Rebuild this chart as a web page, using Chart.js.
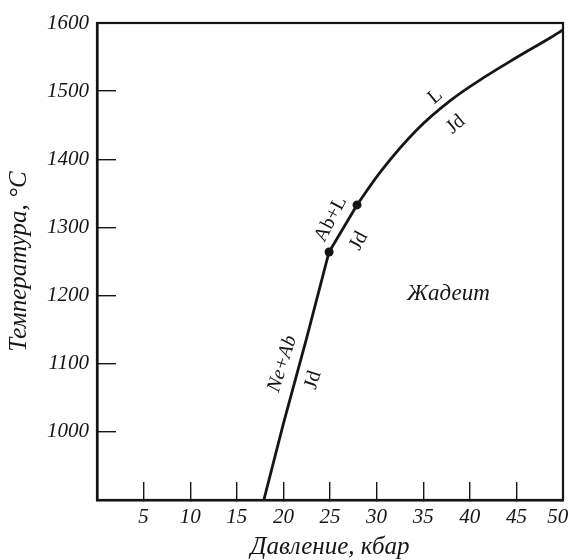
<!DOCTYPE html>
<html>
<head>
<meta charset="utf-8">
<script src="https://cdn.jsdelivr.net/npm/chart.js@4/dist/chart.umd.min.js"></script>
<style>
  html, body { margin: 0; padding: 0; background: #fff; }
  #wrap { width: 572px; height: 560px; }
</style>
</head>
<body>
<div id="wrap"><canvas id="c"></canvas></div>
<script>
// Jadeite stability: melting/breakdown curve, pressure (kbar) vs temperature (°C)

// Ne+Ab = Jd branch (lower, near-straight)
const lowerP = [17.9, 20, 22.5, 24.9]
const lowerT = [900, 1012, 1138, 1264]
// Ab+L = Jd branch (short segment between the two invariant points)
const midP = [24.9, 27.9]
const midT = [1264, 1333]
// L = Jd branch (upper, curving)
const upperP = [27.9, 30.6, 34.3, 37.9, 41.4, 45.1, 48.6, 50]
const upperT = [1333, 1385, 1443, 1486, 1519, 1550, 1578, 1590]
// invariant points (dots)
const dotP = [24.9, 27.9]
const dotT = [1264, 1333]

const xTicks = [5, 10, 15, 20, 25, 30, 35, 40, 45, 50]
const yTicks = [1000, 1100, 1200, 1300, 1400, 1500, 1600]

// curve labels, in data coords; angle in degrees
const notes = [
  { text: "Ne+Ab", x: 19.9, y: 1100, angle: -72, italic: true, size: 20 },
  { text: "Jd",    x: 23.2, y: 1076, angle: -72, size: 20 },
  { text: "Ab+L",  x: 25.1, y: 1312, angle: -62, size: 20 },
  { text: "Jd",    x: 28.1, y: 1280, angle: -62, size: 20 },
  { text: "L",     x: 36.3, y: 1492, angle: -40, size: 20 },
  { text: "Jd",    x: 38.5, y: 1451, angle: -40, size: 20 },
  { text: "Жадеит", x: 37.7, y: 1203, angle: 0, italic: true, size: 23 },
]

const INK = "#151515"
const tickFont = { family: "'Liberation Serif', serif", size: 21, style: "italic" }
const titleFont = { family: "'Liberation Serif', serif", size: 25, style: "italic" }

const toXY = (xs, ys) => xs.map((x, i) => ({ x, y: ys[i] }))

const lineStyle = {
  borderColor: INK,
  borderWidth: 2.8,
  pointRadius: 0,
  fill: false,
}

// full box round the plot area
const frame = {
  id: "frame",
  afterDraw(chart) {
    const { ctx, chartArea: a } = chart
    ctx.save()
    ctx.strokeStyle = INK
    ctx.lineWidth = 2.2
    ctx.strokeRect(a.left, a.top, a.right - a.left, a.bottom - a.top)
    ctx.restore()
  },
}

const curveNotes = {
  id: "curveNotes",
  afterDatasetsDraw(chart) {
    const { ctx, scales } = chart
    ctx.save()
    ctx.fillStyle = INK
    ctx.textAlign = "center"
    ctx.textBaseline = "middle"
    notes.forEach(n => {
      const px = scales.x.getPixelForValue(n.x)
      const py = scales.y.getPixelForValue(n.y)
      ctx.save()
      ctx.translate(px, py)
      ctx.rotate(n.angle * Math.PI / 180)
      ctx.font = (n.italic ? "italic " : "") + n.size + "px 'Liberation Serif', serif"
      ctx.fillText(n.text, 0, 0)
      ctx.restore()
    })
    ctx.restore()
  },
}

new Chart(document.getElementById("c"), {
  type: "line",
  data: {
    datasets: [
      { ...lineStyle, data: toXY(lowerP, lowerT), tension: 0 },
      { ...lineStyle, data: toXY(midP, midT), tension: 0 },
      { ...lineStyle, data: toXY(upperP, upperT), tension: 0.4 },
      {
        data: toXY(dotP, dotT),
        showLine: false,
        pointRadius: 4.5,
        pointBackgroundColor: INK,
        pointBorderColor: INK,
        borderWidth: 0,
      },
    ],
  },
  options: {
    responsive: true,
    maintainAspectRatio: false,
    animation: false,
    layout: { padding: { left: 0, right: 9, top: 23, bottom: 0 } },
    plugins: {
      legend: { display: false },
      tooltip: { enabled: false },
    },
    scales: {
      x: {
        type: "linear",
        min: 0,
        max: 50,
        afterBuildTicks: s => { s.ticks = xTicks.map(v => ({ value: v })) },
        afterFit: s => { s.height = 60; s.paddingLeft = 0; s.paddingRight = 0 },
        grid: { drawOnChartArea: false, tickLength: -18, color: INK, lineWidth: 1.4 },
        border: { color: INK, width: 2.6 },
        ticks: {
          padding: 23, color: INK, font: tickFont, maxRotation: 0, autoSkip: false,
          // last label sits a little left of its tick, inside the page edge
          callback: v => (v === 50 ? "50\u2002" : String(v)),
        },
        title: {
          display: true,
          text: "Давление, кбар",
          color: INK,
          font: { ...titleFont, lineHeight: 1.0 },
          padding: { top: 0, bottom: 0 },
        },
      },
      y: {
        type: "linear",
        min: 900,
        max: 1600,
        afterBuildTicks: s => { s.ticks = yTicks.map(v => ({ value: v })) },
        afterFit: s => { s.width = 97; s.paddingTop = 0; s.paddingBottom = 0 },
        grid: { drawOnChartArea: false, tickLength: -19, color: INK, lineWidth: 1.4 },
        border: { color: INK, width: 2.6 },
        ticks: { padding: 27, color: INK, font: tickFont, autoSkip: false, callback: v => String(v) },
        title: {
          display: true,
          text: "Температура, °C",
          color: INK,
          font: titleFont,
          padding: { top: 4, bottom: 0 },
        },
      },
    },
  },
  plugins: [frame, curveNotes],
})
</script>
</body>
</html>
